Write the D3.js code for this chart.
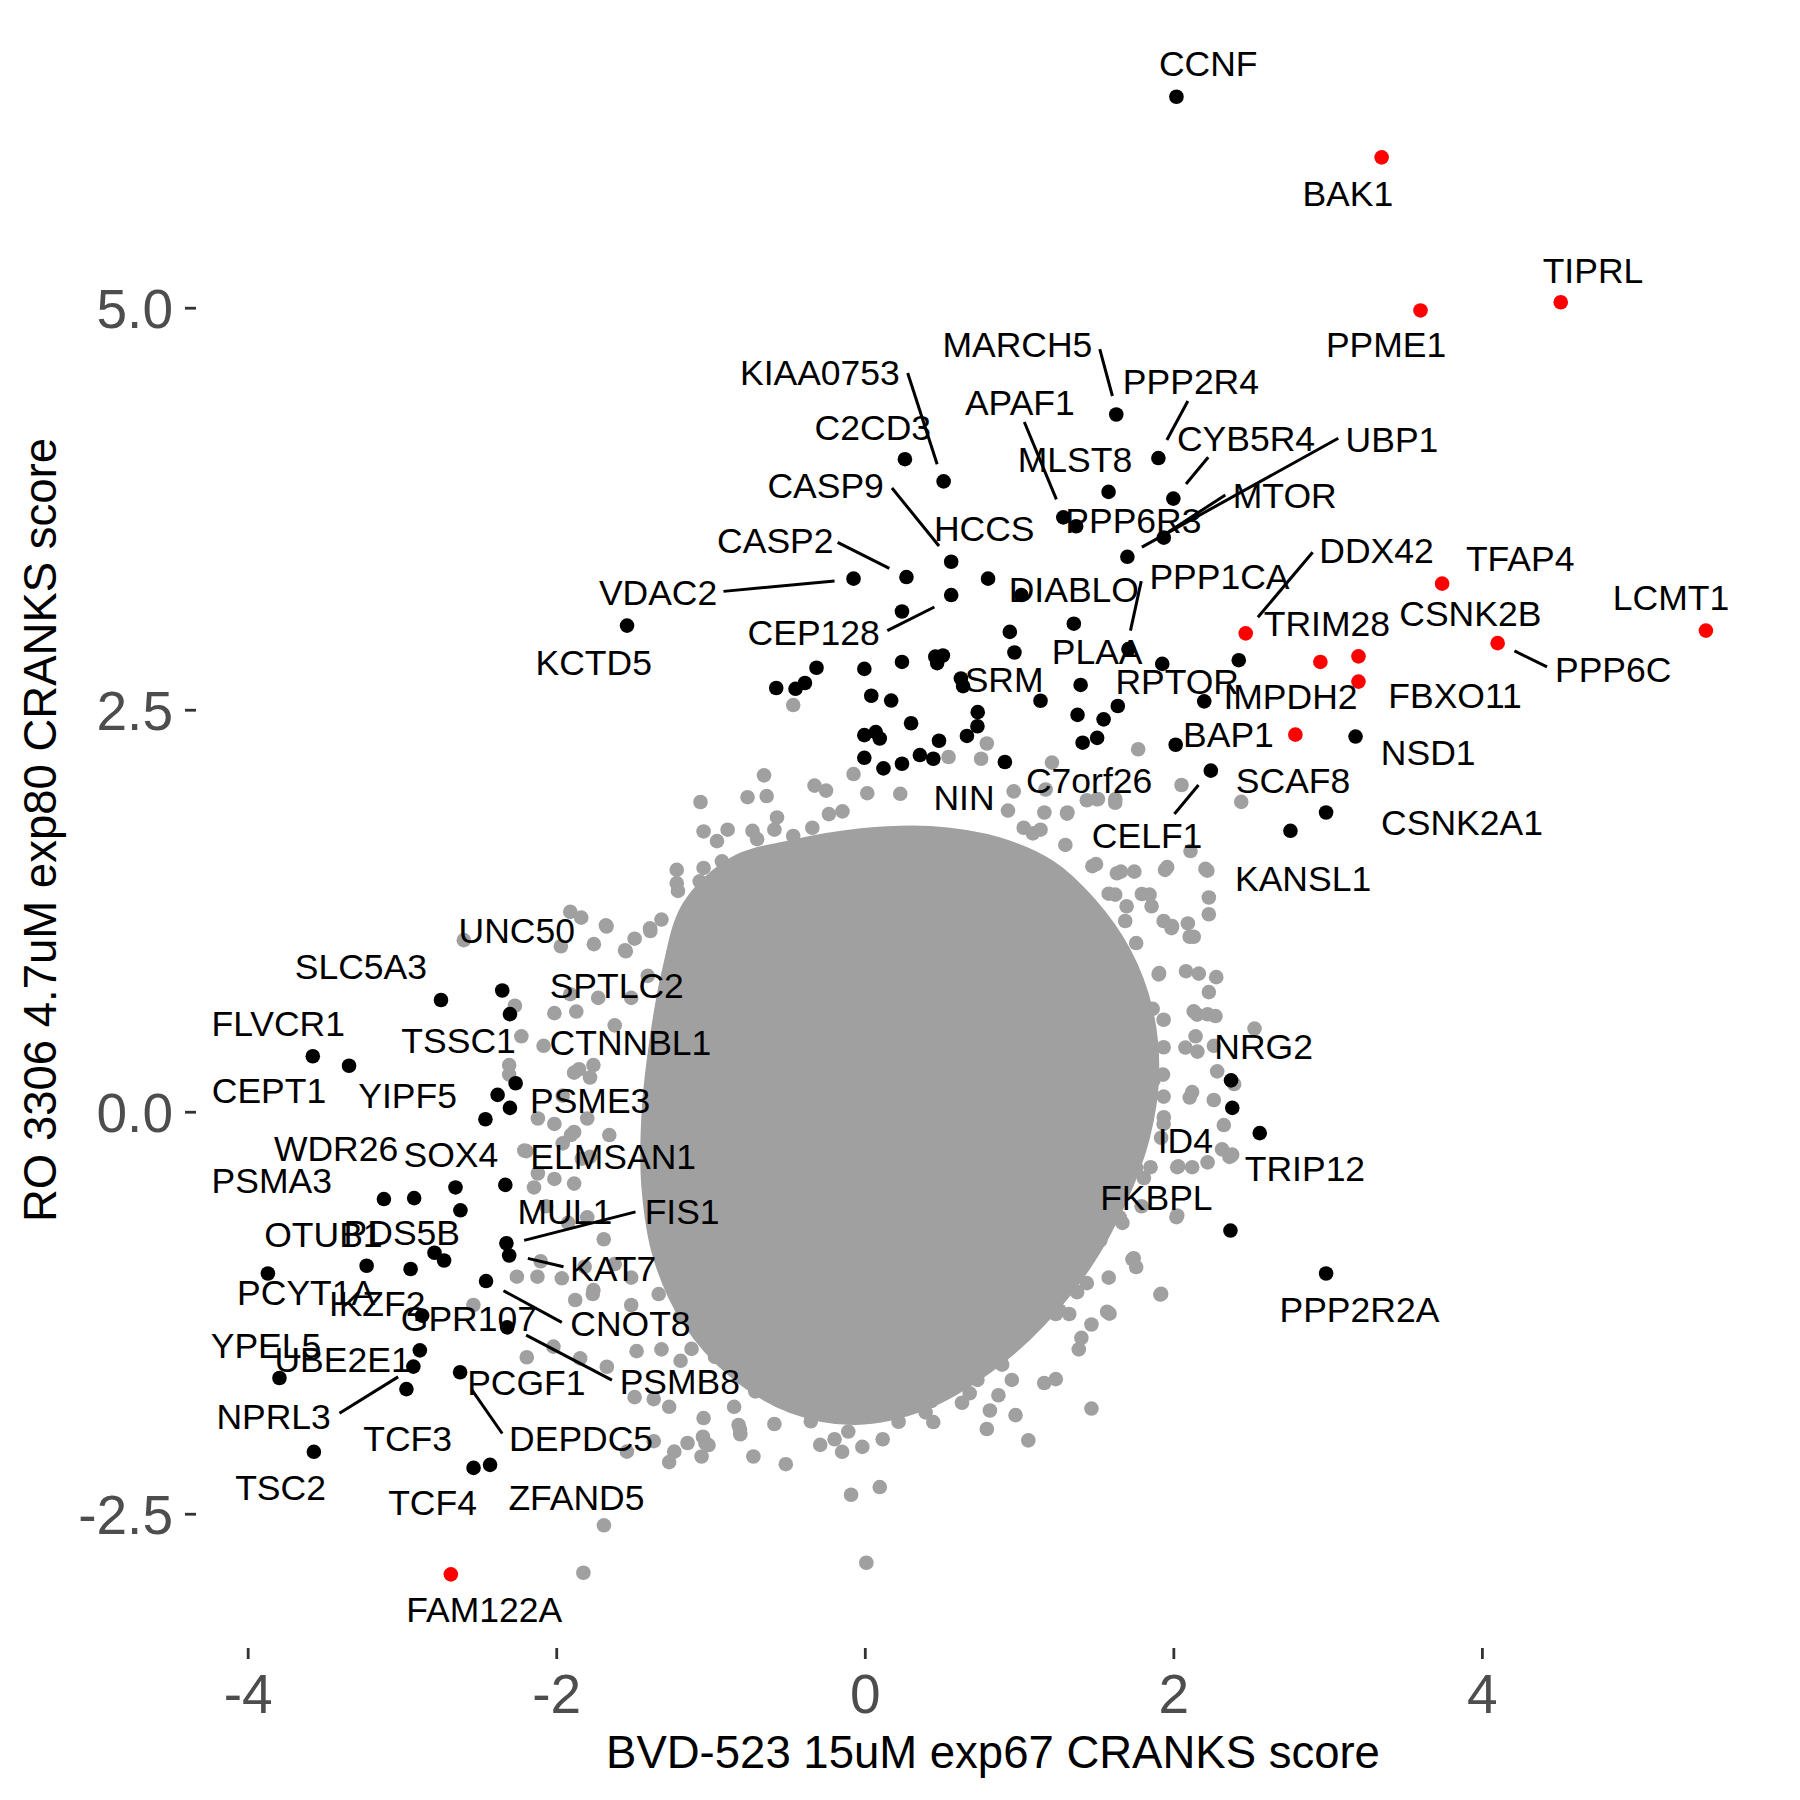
<!DOCTYPE html>
<html>
<head>
<meta charset="utf-8">
<script src="https://cdn.jsdelivr.net/npm/d3@7"></script>
<style>
  body { margin: 0; background: #fff; }
  svg text { font-family: "Liberation Sans", Arial, sans-serif; }
</style>
</head>
<body>
<div id="chart"></div>
<script>
// x = BVD-523 score, y = RO 3306 score

// outline of the solid, overplotted centre of the gray cloud
const coreOutline = [
  [-1.139, 1.274], [-0.841, 1.545], [-0.469, 1.645], [-0.022, 1.717], [0.424, 1.731],
  [0.871, 1.660], [1.200, 1.520], [1.450, 1.300], [1.680, 0.989], [1.820, 0.632],
  [1.861, 0.239], [1.802, -0.154], [1.653, -0.546], [1.430, -0.939], [1.132, -1.296],
  [0.797, -1.581], [0.387, -1.810], [-0.059, -1.903], [-0.469, -1.831], [-0.841, -1.617],
  [-1.139, -1.296], [-1.325, -0.903], [-1.400, -0.475], [-1.400, -0.011], [-1.347, 0.453],
  [-1.266, 0.882]
];

// gray genes outside the solid centre
const grayPts = [
  [-0.464,2.529],[0.791,2.290],[0.754,2.195],[0.543,2.206],[1.772,2.254],[1.213,2.171],[-0.073,2.100],
  [-0.653,2.092],[-0.326,2.028],[-0.251,1.997],[-1.065,1.926],[-0.760,1.956],[-0.636,1.963],[-0.569,1.830],
  [-1.045,1.743],[-0.958,1.683],[-0.889,1.754],[-0.728,1.747],[-0.698,1.695],[-0.586,1.754],[-1.219,1.504],
  [-1.219,1.421],[-1.045,1.516],[-1.070,1.433],[-0.926,1.557],[-0.785,1.552],[-0.685,1.600],[-0.487,1.611],
  [-0.425,1.540],[-1.678,1.159],[-1.554,1.004],[-1.492,1.076],[-1.392,1.140],[-1.318,1.195],
  [1.946,1.504],[1.796,1.354],[1.859,1.278],[1.988,1.142],[2.094,1.171],[2.106,1.088],[1.908,0.862],
  [2.082,0.874],[2.144,0.469],[2.156,0.374],[1.759,0.802],[1.623,0.767],[2.106,0.088],[1.871,0.195],
  [1.921,-0.162],[2.032,-0.340],[1.722,0.076],[1.685,-0.055],[1.809,-0.412],[1.164,1.861],[1.313,1.861],
  [1.511,1.945],[1.623,1.921],[1.089,1.731],[1.300,1.659],[1.499,1.540],[1.660,1.493],[1.747,1.493],
  [1.623,1.350],[1.697,1.278],[1.350,1.302],[0.928,1.873],[0.965,1.992],[1.139,1.754],[1.846,1.350],
  [2.132,0.624],[1.859,0.386],[1.933,0.231],
  [2.053,2.032],[2.440,1.927],[1.311,1.854],[1.506,1.943],[1.624,1.943],[2.111,1.621],[1.960,1.521],
  [2.208,1.510],[2.230,1.332],[2.230,1.228],[1.992,1.154],[2.132,1.088],[1.905,0.854],[2.165,0.859],
  [2.278,0.837],[2.230,0.744],[2.154,0.604],[2.273,0.595],[2.526,0.517],[2.078,0.399],[2.284,0.251],
  [2.122,0.122],[2.262,0.073],[2.327,-0.083],[2.381,-0.267],[2.316,-0.234],[1.938,-0.034],[1.852,-0.345],
  [2.025,-0.345],[2.122,-0.345],[2.025,-0.645],[1.743,-0.911],[1.916,-1.137],[1.527,-0.800],[1.571,-1.244],
  [1.376,-1.122],[2.220,1.499],[2.394,0.172],[2.263,0.410],[2.374,-0.274],
  [2.020,-0.656],[1.523,-0.794],[1.735,-0.918],[1.759,-0.966],[1.921,-1.133],[1.586,-1.256],[1.469,-1.323],
  [1.375,-1.120],[1.238,-1.258],[1.325,-1.258],[1.404,-1.406],[1.387,-1.478],[1.163,-1.687],[1.238,-1.663],
  [1.469,-1.846],[1.060,-2.044],[0.977,-1.887],[0.791,-1.973],[0.811,-1.858],[0.866,-1.763],[0.630,-1.810],
  [0.680,-1.751],[0.630,-1.668],[0.903,-1.465],[0.953,-1.668],[0.444,-1.930],[0.394,-1.870],[0.431,-1.799],
  [0.116,-2.037],[-0.016,-2.084],[-0.147,-2.115],[-0.196,-2.037],[-0.107,-1.989],[-0.289,-2.072],[-0.350,-1.925],
  [-0.512,-2.192],[-0.722,-2.144],[-0.809,-1.977],[-0.586,-1.942],[0.097,-2.334],[-0.089,-2.382],[0.010,-2.805],
  [-1.058,-2.144],[-1.268,-2.179],[-1.149,-2.060],[-1.033,-2.060],[-1.045,-1.905],[-1.368,-2.049],[-1.691,-2.572],
  [-1.268,-1.835],[-1.492,-1.775],[-1.368,-1.787],[-1.479,-1.489],[-1.318,-1.478],[-1.194,-1.549],[-0.971,-1.525],
  [-0.859,-1.478],[-0.673,-1.596],[-0.710,-1.739],[-0.847,-1.835],[-0.425,-1.787],[-0.226,-1.668],[-0.189,-1.739],
  [0.022,-1.763],[0.184,-1.835],[0.295,-1.810],[0.071,-1.870],[-0.127,-1.787],[0.171,-1.680],[0.344,-1.644],
  [0.469,-1.620],[0.605,-1.549],[0.791,-1.501],[0.890,-1.573],[0.730,-1.668],
  [-1.824,-2.867],[-1.235,-2.114],[-1.049,-2.021],[-1.013,-2.073],[-1.542,-2.114],[-0.818,-1.948],[-0.807,-2.006],
  [-0.180,-1.897],[0.219,-1.928],[-0.440,-1.813],[-1.672,-1.586],[-1.845,-1.534],[-2.191,-1.527],[-2.018,-1.461],
  [-2.255,-1.026],[-2.122,-1.026],[-1.964,-1.036],[-1.877,-1.171],[-1.759,-1.109],[-2.537,-1.202],
  [-2.599,1.067],[-1.674,1.152],[-1.756,1.042],[-1.549,0.998],[-1.390,1.124],[-1.211,1.373],[-2.012,0.613],
  [-1.870,0.623],[-1.728,0.708],[-1.514,0.708],[-1.407,0.845],[-1.621,0.537],[-1.852,0.264],[-1.781,0.213],
  [-2.119,-0.042],[-2.012,-0.076],[-2.207,-0.241],[-2.119,-0.384],[-2.012,-0.418],[-1.905,-0.145],[-1.799,-0.042],
  [-1.781,-0.281],[-1.656,-0.145],[-2.065,-0.588],[-1.923,-0.691],[-1.799,-0.657],[-1.692,-0.793],[-2.101,-0.930],
  [-1.816,-0.964],[-1.621,-0.947],[-1.514,-1.032],[-1.763,-1.134],[-1.514,-1.202],[-1.336,-1.134],[-1.194,-1.271],
  [-1.016,-1.271],[-1.123,-1.475],[-0.874,-1.442],[-0.553,-1.714],[0.336,-1.714],[1.083,-1.305],[1.261,-1.236],
  [1.581,-1.032],[1.670,-0.691],[1.794,-0.588],[1.634,-0.554],
  [0.016,1.981],[0.230,1.977],[1.172,2.004],[1.030,1.766],[1.439,1.937],[-0.464,1.715],[-0.233,1.851],
  [-0.145,1.868],[-0.340,1.766],[1.475,1.527],[1.634,1.483],[1.581,1.356],[1.688,1.186],[1.937,1.186],
  [1.759,1.049],[1.652,0.981],[1.724,0.776],[1.866,0.640],[1.937,0.572],[2.222,0.606],[1.937,0.401],
  [1.759,0.333],[1.937,0.094],[1.937,-0.076],[1.652,-0.281],[2.222,-0.315],[2.364,-0.281],[1.759,-0.349],
  [1.652,-0.657],[1.261,-0.930],[1.439,-1.066],
  [-1.909,1.243],[-1.838,1.207],[-1.970,1.029],[-2.268,0.659],[-1.909,0.731],[-2.226,0.469],[-2.082,0.410],
  [-2.305,0.290],[-2.305,0.231],[-1.884,0.243],[-1.759,0.290],[-1.958,0.100],[-1.884,-0.126],[-1.958,-0.197],
  [-2.194,-0.245],[-1.834,-0.292],[-2.144,-0.471],[-1.884,-0.447]
];

// highlighted genes (black)
const blackPts = [
  [2.020,6.312],[1.630,4.336],[1.903,4.065],[0.260,4.058],[0.511,3.920],[1.580,3.855],[2.000,3.813],
  [1.287,3.696],[1.370,3.641],[1.938,3.570],[1.702,3.451],[0.560,3.420],[0.270,3.325],[-0.073,3.315],
  [0.799,3.315],[0.560,3.213],[1.015,3.213],[0.241,3.111],[1.355,3.035],[-1.541,3.023],[0.940,2.984],
  [1.709,2.877],[0.970,2.856],[1.928,2.785],[-0.313,2.761],[-0.574,2.635],[-0.449,2.630],[-0.388,2.666],
  [-0.003,2.754],[0.241,2.797],[0.457,2.830],[0.506,2.837],[0.469,2.790],[0.623,2.694],[0.637,2.647],
  [1.139,2.556],[1.399,2.654],[1.379,2.468],[1.548,2.440],[1.640,2.523],[1.506,2.325],[1.412,2.295],
  [0.042,2.587],[0.171,2.557],[0.300,2.416],[0.732,2.485],[0.730,2.397],[0.662,2.337],[0.481,2.307],
  [-0.003,2.342],[0.071,2.361],[0.097,2.321],[-0.003,2.201],[0.121,2.135],[0.241,2.164],[0.357,2.218],
  [0.444,2.195],[0.908,2.175],[2.015,2.282],[2.424,2.808],[2.200,2.552],[3.181,2.333],[2.243,2.121],
  [2.990,1.861],[2.759,1.747],[2.374,0.195],[2.382,0.024],[2.560,-0.133],[2.370,-0.739],[2.990,-1.006],
  [-2.747,0.695],[-2.350,0.754],[-2.300,0.607],[-3.578,0.345],[-3.343,0.286],[-2.263,0.177],[-2.380,0.105],
  [-2.300,0.024],[-2.459,-0.047],[-2.330,-0.455],[-2.653,-0.471],[-2.921,-0.537],[-3.117,-0.543],[-2.621,-0.613],
  [-2.323,-0.818],[-2.305,-0.894],[-2.789,-0.877],[-2.727,-0.925],[-3.869,-1.006],[-3.229,-0.958],[-2.944,-0.978],
  [-2.455,-1.053],[-2.869,-1.268],[-2.318,-1.341],[-2.884,-1.484],[-2.926,-1.585],[-2.623,-1.620],[-3.794,-1.656],
  [-2.971,-1.725],[-3.571,-2.115],[-2.536,-2.215],[-2.429,-2.196]
];

// highlighted genes (red)
const redPts = [
  [3.350,5.935],[3.602,4.983],[4.511,5.034],[3.742,3.284],[2.469,2.975],[2.953,2.797],
  [3.200,2.832],[3.200,2.675],[2.791,2.345],[4.102,2.914],[5.452,2.992],[-2.683,-2.877]
];

// gene labels: name, x, y (label centre, data units)
const labels = [
  ["CCNF",2.226,6.521],["BAK1",3.131,5.711],["TIPRL",4.720,5.236],["PPME1",3.379,4.772],
  ["MARCH5",0.989,4.772],["PPP2R4",2.114,4.544],["KIAA0753",-0.291,4.600],["C2CD3",0.052,4.258],
  ["APAF1",1.005,4.415],["CYB5R4",2.471,4.187],["UBP1",3.417,4.182],["MLST8",1.362,4.058],
  ["CASP9",-0.254,3.894],["MTOR",2.722,3.836],["PPP6R3",1.741,3.680],["HCCS",0.774,3.630],
  ["CASP2",-0.580,3.551],["DDX42",3.317,3.491],["TFAP4",4.248,3.443],["VDAC2",-1.340,3.229],
  ["DIABLO",1.355,3.251],["PPP1CA",2.299,3.331],["LCMT1",5.226,3.201],["CSNK2B",3.925,3.099],
  ["TRIM28",2.995,3.039],["CEP128",-0.331,2.980],["PLAA",1.506,2.861],["KCTD5",-1.757,2.794],
  ["PPP6C",4.851,2.754],["SRM",0.903,2.687],["RPTOR",2.025,2.680],["IMPDH2",2.759,2.587],
  ["FBXO11",3.826,2.592],["BAP1",2.357,2.345],["NSD1",3.652,2.238],["C7orf26",1.454,2.063],
  ["SCAF8",2.776,2.063],["NIN",0.643,1.957],["CSNK2A1",3.871,1.802],["CELF1",1.830,1.721],
  ["KANSL1",2.841,1.452],["UNC50",-2.256,1.131],["SLC5A3",-3.266,0.902],["SPTLC2",-1.608,0.788],
  ["FLVCR1",-3.802,0.548],["TSSC1",-2.633,0.446],["CTNNBL1",-1.519,0.431],["NRG2",2.585,0.405],
  ["CEPT1",-3.862,0.136],["YIPF5",-2.963,0.105],["PSME3",-1.780,0.074],["ID4",2.078,-0.179],
  ["WDR26",-3.427,-0.226],["SOX4",-2.683,-0.262],["ELMSAN1",-1.631,-0.275],["TRIP12",2.853,-0.352],
  ["PSMA3",-3.844,-0.424],["FKBPL",1.890,-0.530],["MUL1",-1.944,-0.618],["FIS1",-1.184,-0.618],
  ["OTUB1",-3.509,-0.763],["PDS5B",-3.001,-0.751],["KAT7",-1.631,-0.975],["PCYT1A",-3.621,-1.120],
  ["IKZF2",-3.161,-1.192],["PPP2R2A",3.206,-1.227],["GPR107",-2.566,-1.287],["CNOT8",-1.519,-1.318],
  ["YPEL5",-3.881,-1.453],["UBE2E1",-3.385,-1.537],["PCGF1",-2.194,-1.680],["PSMB8",-1.199,-1.675],
  ["NPRL3",-3.832,-1.894],["TCF3",-2.963,-2.029],["DEPDC5",-1.839,-2.032],["TSC2",-3.787,-2.334],
  ["TCF4",-2.802,-2.429],["ZFAND5",-1.869,-2.396],["FAM122A",-2.467,-3.091]
];

// label connector segments: x1, y1, x2, y2
const segments = [
  [0.278,4.594,0.469,4.027],[1.523,4.743,1.605,4.451],[2.094,4.420,1.958,4.177],
  [1.034,4.289,1.242,3.808],[2.226,4.070,2.082,3.904],[3.069,4.188,1.796,3.511],
  [2.337,3.836,1.960,3.600],[0.176,3.879,0.481,3.518],[-0.176,3.541,0.159,3.379],
  [-0.916,3.236,-0.196,3.300],[0.146,2.992,0.451,3.139],[2.903,3.479,2.548,3.075],
  [1.792,3.300,1.722,2.992],[4.211,2.866,4.422,2.766],[2.007,1.851,2.163,2.032],
  [-3.405,-1.875,-3.025,-1.649],[-2.549,-1.727,-2.350,-2.001],[-2.195,-1.389,-1.639,-1.669],
  [-2.342,-1.113,-1.964,-1.310],[-2.184,-0.912,-1.953,-0.964],[-2.208,-0.800,-1.486,-0.623]
];

const xTicks = [-4, -2, 0, 2, 4];
const yTicks = [-2.5, 0, 2.5, 5];
const xTitle = "BVD-523 15uM exp67 CRANKS score";
const yTitle = "RO 3306 4.7uM exp80 CRANKS score";

const width = 1800, height = 1800;
const panel = { left: 196, right: 1790, top: 12, bottom: 1648 };
const grey = "#a0a0a0";
const r = 7.3;

const svg = d3.select("#chart").append("svg")
  .attr("width", width)
  .attr("height", height);

const x = d3.scaleLinear().domain([-4.335, 5.997]).range([panel.left, panel.right]);
const y = d3.scaleLinear().domain([-3.335, 6.839]).range([panel.bottom, panel.top]);

// dense core of the cloud
svg.append("path")
  .datum(coreOutline)
  .attr("d", d3.line().x(d => x(d[0])).y(d => y(d[1])).curve(d3.curveCatmullRomClosed))
  .attr("fill", grey)
  .attr("stroke", grey)
  .attr("stroke-width", 2 * r)
  .attr("stroke-linejoin", "round");

svg.append("g").selectAll("circle")
  .data(grayPts)
  .join("circle")
  .attr("cx", d => x(d[0]))
  .attr("cy", d => y(d[1]))
  .attr("r", r)
  .attr("fill", grey);

svg.append("g").selectAll("circle")
  .data(blackPts)
  .join("circle")
  .attr("cx", d => x(d[0]))
  .attr("cy", d => y(d[1]))
  .attr("r", r)
  .attr("fill", "#000");

svg.append("g").selectAll("circle")
  .data(redPts)
  .join("circle")
  .attr("cx", d => x(d[0]))
  .attr("cy", d => y(d[1]))
  .attr("r", r)
  .attr("fill", "#ff0000");

svg.append("g").selectAll("line")
  .data(segments)
  .join("line")
  .attr("x1", d => x(d[0]))
  .attr("y1", d => y(d[1]))
  .attr("x2", d => x(d[2]))
  .attr("y2", d => y(d[3]))
  .attr("stroke", "#000")
  .attr("stroke-width", 3);

svg.append("g").selectAll("text")
  .data(labels)
  .join("text")
  .attr("x", d => x(d[1]))
  .attr("y", d => y(d[2]))
  .attr("dy", "0.36em")
  .attr("text-anchor", "middle")
  .attr("font-size", 35.5)
  .attr("fill", "#000")
  .text(d => d[0]);

// axes, no axis line
const xAxis = svg.append("g")
  .attr("transform", `translate(0,${panel.bottom})`)
  .call(d3.axisBottom(x).tickValues(xTicks).tickSize(11).tickPadding(15).tickFormat(d => String(d)));
const yAxis = svg.append("g")
  .attr("transform", `translate(${panel.left},0)`)
  .call(d3.axisLeft(y).tickValues(yTicks).tickSize(11).tickPadding(12).tickFormat(d => d.toFixed(1)));

[xAxis, yAxis].forEach(g => {
  g.select(".domain").remove();
  g.selectAll(".tick line").attr("stroke", "#333").attr("stroke-width", 2.8);
  g.selectAll(".tick text")
    .attr("fill", "#4d4d4d")
    .style("font-size", "55px")
    .style("font-family", "'Liberation Sans', Arial, sans-serif");
});
yAxis.selectAll(".tick text").attr("dy", "0.36em");

svg.append("text")
  .attr("x", (panel.left + panel.right) / 2)
  .attr("y", 1768)
  .attr("text-anchor", "middle")
  .attr("font-size", 45.5)
  .attr("fill", "#000")
  .text(xTitle);

svg.append("text")
  .attr("transform", `translate(55.5,${(panel.top + panel.bottom) / 2}) rotate(-90)`)
  .attr("text-anchor", "middle")
  .attr("font-size", 45.5)
  .attr("fill", "#000")
  .text(yTitle);
</script>
</body>
</html>
